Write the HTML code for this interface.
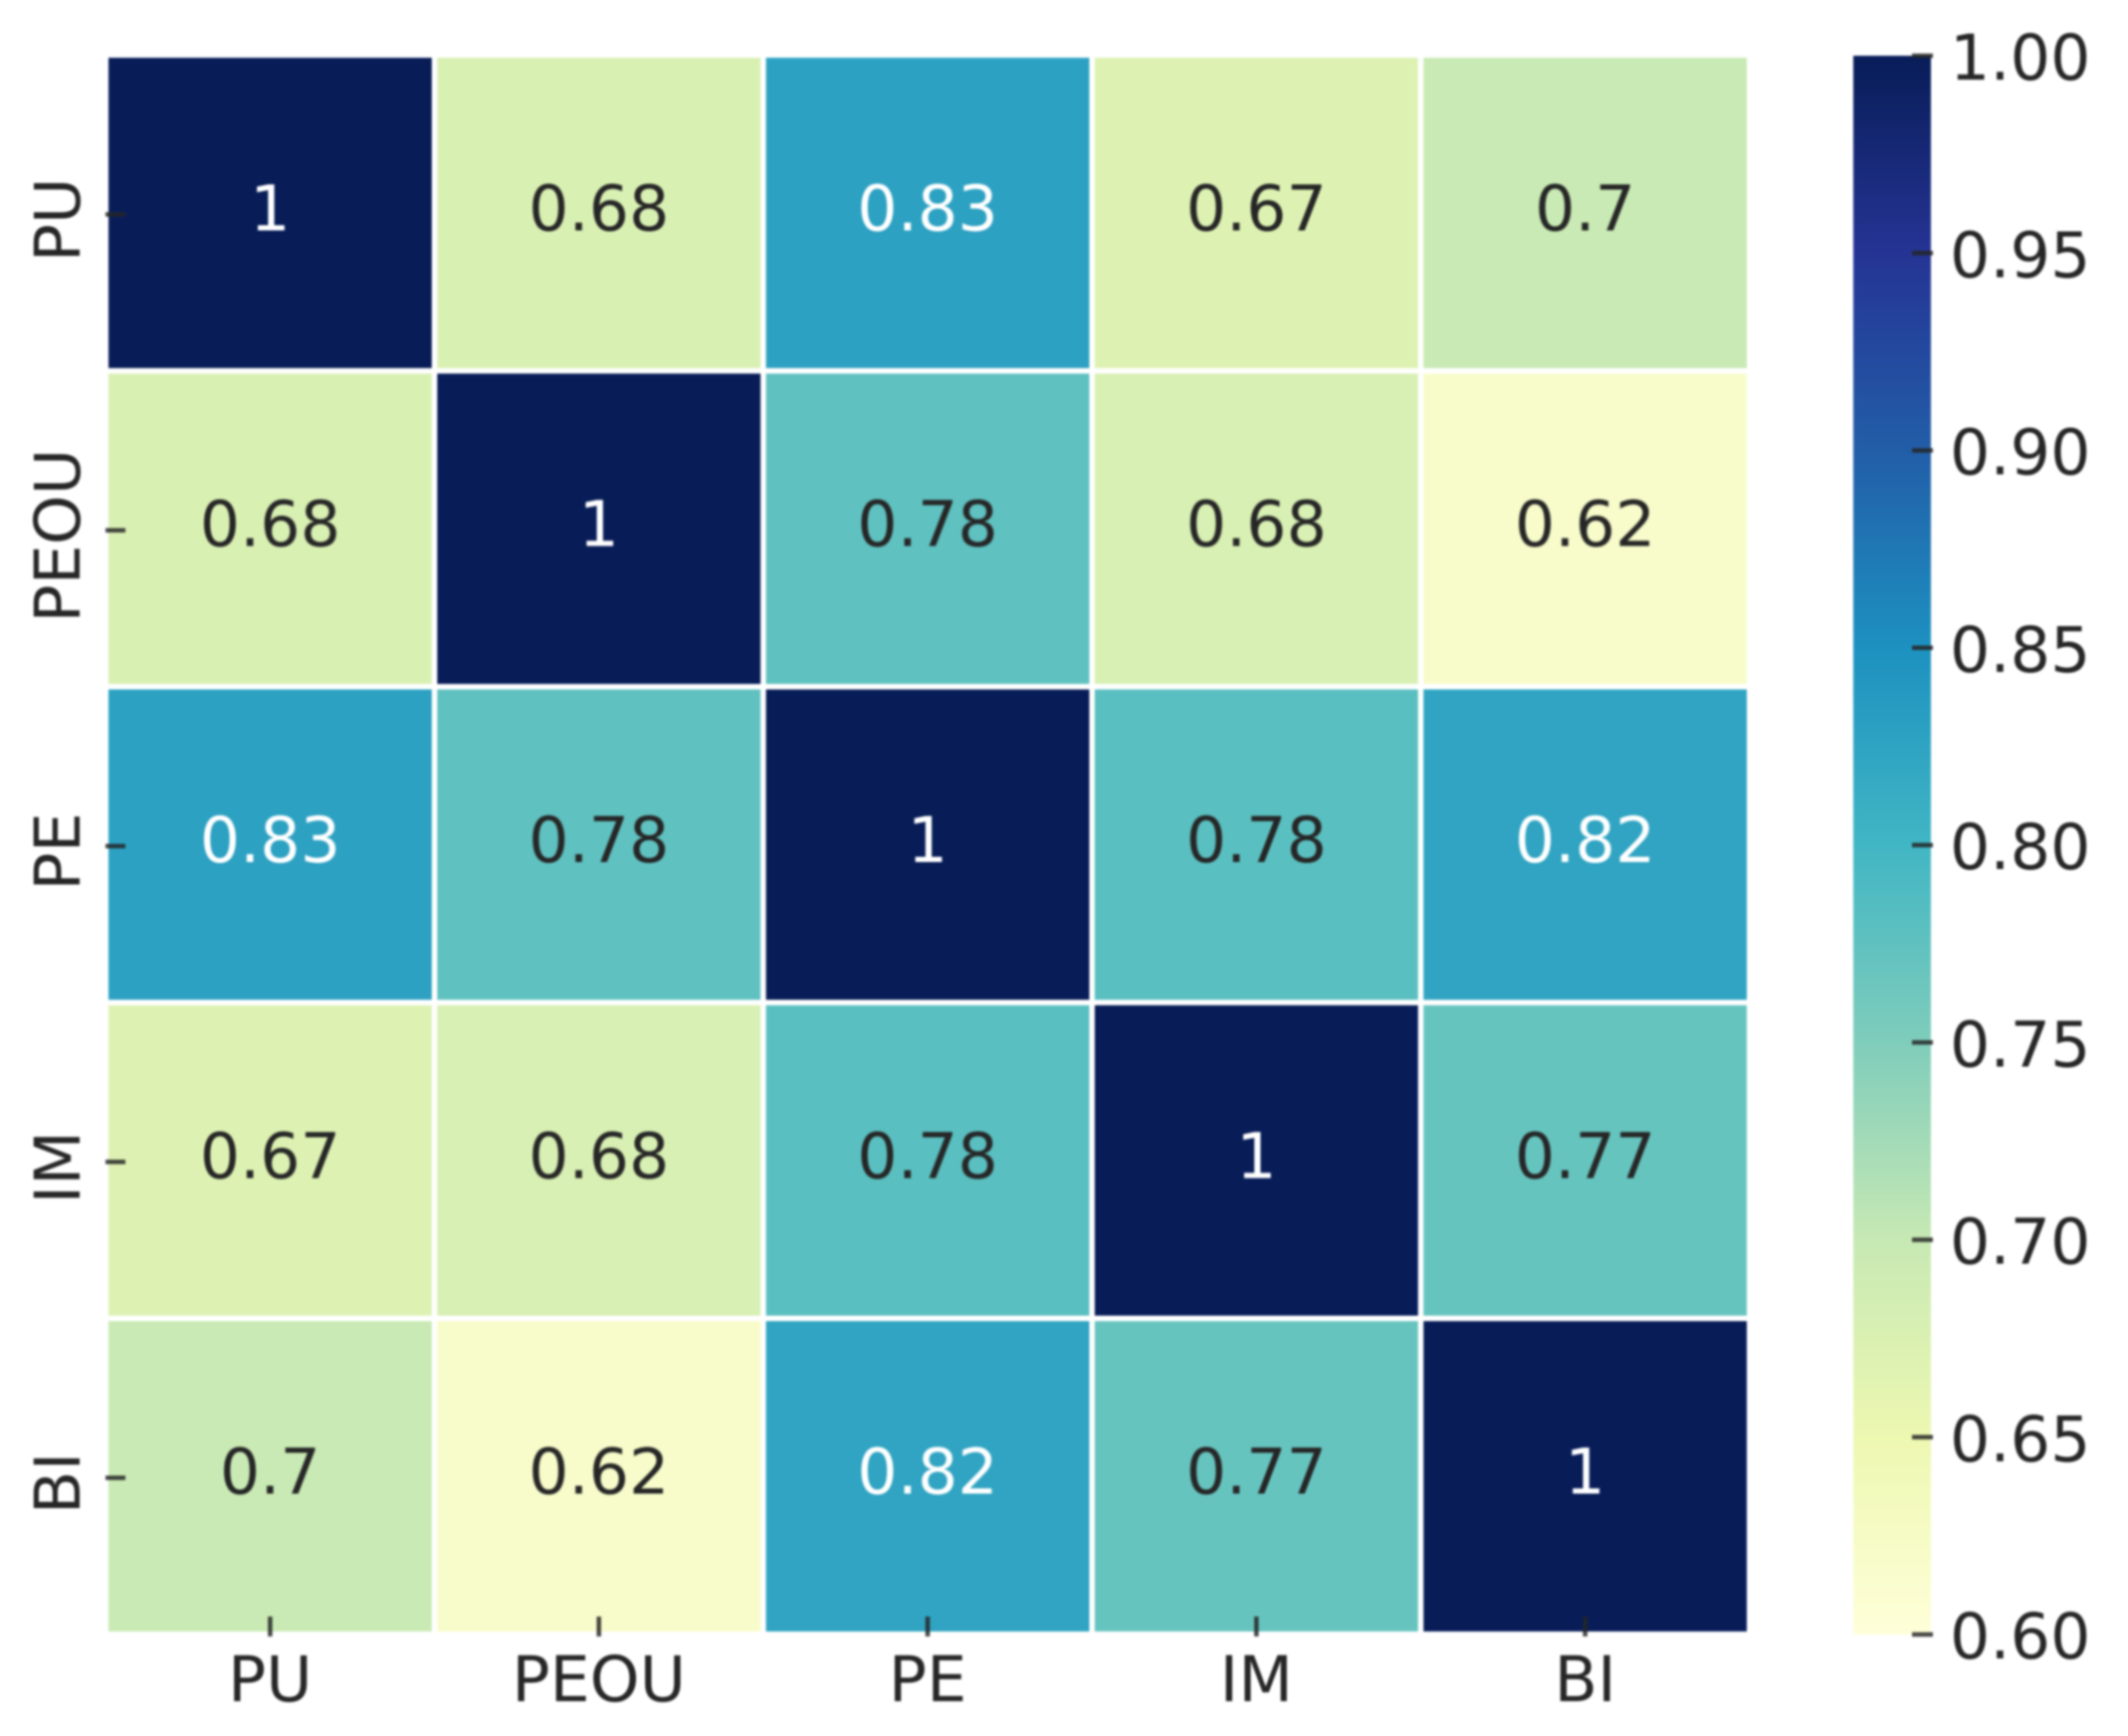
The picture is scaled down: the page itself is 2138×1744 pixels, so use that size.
<!DOCTYPE html>
<html lang="en">
<head>
<meta charset="utf-8">
<title>Correlation heatmap</title>
<style>
  html, body { margin: 0; padding: 0; background: #ffffff; }
  body { width: 2138px; height: 1744px; overflow: hidden; }
  svg { display: block; filter: blur(1px); }
  text { font-family: "DejaVu Sans", "Liberation Sans", sans-serif; font-size: 63.5px; }
</style>
</head>
<body>
<svg id="chart" xmlns="http://www.w3.org/2000/svg" width="2138" height="1744" viewBox="0 0 2138 1744">
  <defs>
    <linearGradient id="cbar-gradient" x1="0" y1="1" x2="0" y2="0"></linearGradient>
  </defs>
  <rect x="0" y="0" width="2138" height="1744" fill="#ffffff"></rect>
  <g id="cells"></g>
  <g id="annots"></g>
  <g id="xaxis"></g>
  <g id="yaxis"></g>
  <g id="colorbar"></g>
</svg>
<script>
const categories = ['PU', 'PEOU', 'PE', 'IM', 'BI'];
const rowPU   = [1, 0.676, 0.828, 0.671, 0.697];
const rowPEOU = [0.676, 1, 0.776, 0.677, 0.619];
const rowPE   = [0.828, 0.776, 1, 0.78, 0.824];
const rowIM   = [0.671, 0.677, 0.78, 1, 0.77];
const rowBI   = [0.697, 0.619, 0.824, 0.77, 1];
const matrix = [rowPU, rowPEOU, rowPE, rowIM, rowBI];
const colorbarTicks = [0.6, 0.65, 0.7, 0.75, 0.8, 0.85, 0.9, 0.95, 1.0];
const colorbarTickLabels = ['0.60', '0.65', '0.70', '0.75', '0.80', '0.85', '0.90', '0.95', '1.00'];
const colorDomain = [0.6, 1.0];
const ylGnBu = ['#ffffd9', '#edf8b1', '#c7e9b4', '#7fcdbb', '#41b6c4', '#1d91c0', '#225ea8', '#253494', '#081d58'];

const SVG_NS = 'http://www.w3.org/2000/svg';
const plot = { left: 109, right: 1755, top: 58, bottom: 1639, gap: 5.5 };
const bar = { left: 1862, right: 1940, top: 56, bottom: 1642 };
const nCols = categories.length;
const nRows = matrix.length;
const stepX = (plot.right - plot.left + plot.gap) / nCols;
const stepY = (plot.bottom - plot.top + plot.gap) / nRows;

function xLeft(i) { return plot.left + i * stepX; }
function yTop(i) { return plot.top + i * stepY; }
function xCenter(i) { return xLeft(i) + (stepX - plot.gap) / 2; }
function yCenter(i) { return yTop(i) + (stepY - plot.gap) / 2; }
function barY(v) {
  const t = (v - colorDomain[0]) / (colorDomain[1] - colorDomain[0]);
  return bar.bottom - t * (bar.bottom - bar.top);
}
function formatValue(v) { return String(parseFloat(v.toFixed(2))); }
function hexToRgb(h) {
  return [parseInt(h.slice(1, 3), 16), parseInt(h.slice(3, 5), 16), parseInt(h.slice(5, 7), 16)];
}
function colorRgb(v) {
  const t = Math.max(0, Math.min(1, (v - colorDomain[0]) / (colorDomain[1] - colorDomain[0])));
  const p = t * (ylGnBu.length - 1);
  const k = Math.min(Math.floor(p), ylGnBu.length - 2);
  const a = hexToRgb(ylGnBu[k]);
  const b = hexToRgb(ylGnBu[k + 1]);
  const f = p - k;
  return [0, 1, 2].map(function (c) { return a[c] + (b[c] - a[c]) * f; });
}
function cssColor(rgb) {
  return 'rgb(' + rgb.map(function (c) { return Math.round(c); }).join(',') + ')';
}
function luminance(rgb) {
  const l = rgb.map(function (c) {
    const s = c / 255;
    return s <= 0.03928 ? s / 12.92 : Math.pow((s + 0.055) / 1.055, 2.4);
  });
  return 0.2126 * l[0] + 0.7152 * l[1] + 0.0722 * l[2];
}
function make(tag, attrs, parent, content) {
  const el = document.createElementNS(SVG_NS, tag);
  Object.keys(attrs).forEach(function (k) { el.setAttribute(k, attrs[k]); });
  if (content !== undefined) el.textContent = content;
  parent.appendChild(el);
  return el;
}

const cellsG = document.getElementById('cells');
const annotsG = document.getElementById('annots');
const xaxisG = document.getElementById('xaxis');
const yaxisG = document.getElementById('yaxis');
const colorbarG = document.getElementById('colorbar');

matrix.forEach(function (row, r) {
  row.forEach(function (value, c) {
    const rgb = colorRgb(value);
    const cell = make('rect', {
      x: xLeft(c), y: yTop(r),
      width: stepX - plot.gap, height: stepY - plot.gap,
      fill: cssColor(rgb)
    }, cellsG);
    
    
    const label = make('text', {
      x: xCenter(c), y: yCenter(r) + 17.5,
      'text-anchor': 'middle',
      fill: luminance(rgb) > 0.408 ? '#262626' : '#ffffff'
    }, annotsG, formatValue(value));
    
    
  });
});

categories.forEach(function (name, i) {
  const xt = make('line', {
    x1: xCenter(i), x2: xCenter(i), y1: 1624, y2: 1644,
    stroke: '#262626', 'stroke-width': 4.5, 'stroke-opacity': 0.85
  }, xaxisG);
  
  
  const xl = make('text', {
    x: xCenter(i), y: 1709, 'text-anchor': 'middle', fill: '#262626'
  }, xaxisG, name);
  
  

  const yt = make('line', {
    x1: 106, x2: 126, y1: yCenter(i) + 1.5, y2: yCenter(i) + 1.5,
    stroke: '#262626', 'stroke-width': 4.5, 'stroke-opacity': 0.85
  }, yaxisG);
  
  
  const yl = make('text', {
    x: 0, y: 0, 'text-anchor': 'middle', fill: '#262626',
    transform: 'translate(80,' + (yCenter(i) + 7) + ') rotate(-90)'
  }, yaxisG, name);
  
  
});

const gradient = document.getElementById('cbar-gradient');
ylGnBu.forEach(function (color, i) {
  make('stop', { offset: (i / (ylGnBu.length - 1)), 'stop-color': color }, gradient);
});
const barRect = make('rect', {
  x: bar.left, y: bar.top, width: bar.right - bar.left, height: bar.bottom - bar.top,
  fill: 'url(#cbar-gradient)'
}, colorbarG);



colorbarTicks.forEach(function (v, i) {
  const t = make('line', {
    x1: 1921, x2: 1942, y1: barY(v), y2: barY(v),
    stroke: '#262626', 'stroke-width': 4.5, 'stroke-opacity': 0.85
  }, colorbarG);
  
  
  const l = make('text', {
    x: 1959, y: barY(v) + 24, fill: '#262626'
  }, colorbarG, colorbarTickLabels[i]);
  
  
});
</script>
</body>
</html>
